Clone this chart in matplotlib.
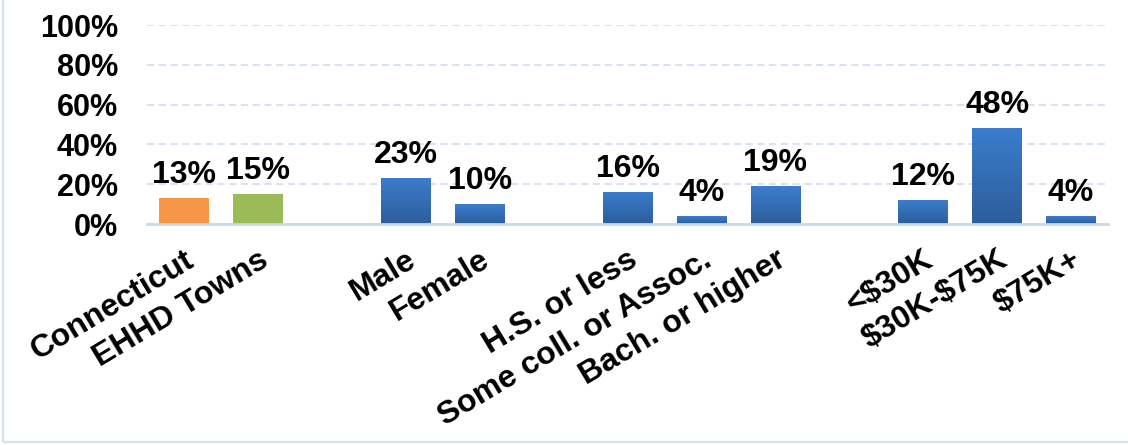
import numpy as np
import matplotlib
matplotlib.use("Agg")
import matplotlib.pyplot as plt
from matplotlib.colors import LinearSegmentedColormap
from matplotlib.patches import Rectangle

plt.rcParams['font.family'] = ['Liberation Sans', 'DejaVu Sans']
plt.rcParams['font.weight'] = 'bold'
plt.rcParams['text.parse_math'] = False

# data
labels = ["Connecticut", "EHHD Towns", "Male", "Female", "H.S. or less",
          "Some coll. or Assoc.", "Bach. or higher", "<$30K", "$30K-$75K", "$75K+"]
values = [13, 15, 23, 10, 16, 4, 19, 12, 48, 4]
group_sizes = [2, 2, 3, 3]
bar_kind = ["orange", "green", "blue", "blue", "blue", "blue", "blue", "blue", "blue", "blue"]
y_ticks = [0, 20, 40, 60, 80, 100]

ORANGE = "#F79646"
GREEN = "#9BBB59"
blue_cmap = LinearSegmentedColormap.from_list("blu", ["#2D5D9B", "#3B7DCC"])
GRID = "#D3E0F1"

# positions: one empty slot between groups
positions = []
pos = 0
for g in group_sizes:
    for i in range(g):
        positions.append(pos)
        pos += 1
    pos += 1

fig = plt.figure(figsize=(11.28, 4.45), dpi=100)
ax = fig.add_axes([0.1303, 0.4966, 0.8520, 0.4472])

width = 0.67
flat = {"orange": ORANGE, "green": GREEN, "blue": "none"}
bars = ax.bar(positions, values, width=width,
              color=[flat[k] for k in bar_kind], zorder=3)

grad = np.linspace(0, 1, 256).reshape(-1, 1)
for b, kind in zip(bars, bar_kind):
    if kind == "blue":
        x0 = b.get_x()
        ax.imshow(grad, extent=[x0, x0 + b.get_width(), 0, b.get_height()],
                  origin='lower', aspect='auto', cmap=blue_cmap, zorder=3)

for p, v in zip(positions, values):
    ax.annotate(f"{v}%", (p, v), xytext=(0, 6), textcoords='offset points',
                ha='center', va='bottom', fontsize=23, fontweight='bold')

ax.set_xlim(-0.5, 12.5)
ax.set_ylim(0, 100)
ax.set_yticks(y_ticks)
ax.set_yticklabels([f"{t}%" for t in y_ticks], fontsize=22, fontweight='bold')
ax.set_xticks(positions)
ax.set_xticklabels(labels, rotation=31, ha='right', va='top',
                   rotation_mode='anchor', fontsize=23, fontweight='bold')
ax.tick_params(axis='y', length=0, pad=21)
ax.tick_params(axis='x', length=0, pad=15)

ax.grid(axis='y', color=GRID, linestyle=(0, (4, 2.5)), linewidth=1.3, zorder=0)
for s in ['top', 'right', 'left']:
    ax.spines[s].set_visible(False)
ax.spines['bottom'].set_color("#C9D8EC")
ax.spines['bottom'].set_linewidth(2)
ax.spines['bottom'].set_zorder(4)

# outer frame (only left and bottom edges visible)
fig.patches.append(Rectangle((3 / 1128, 3 / 445), 1.2, 1.2, transform=fig.transFigure,
                             fill=False, edgecolor="#D6E1EF", linewidth=1.6))

fig.savefig("out.png", dpi=100)
